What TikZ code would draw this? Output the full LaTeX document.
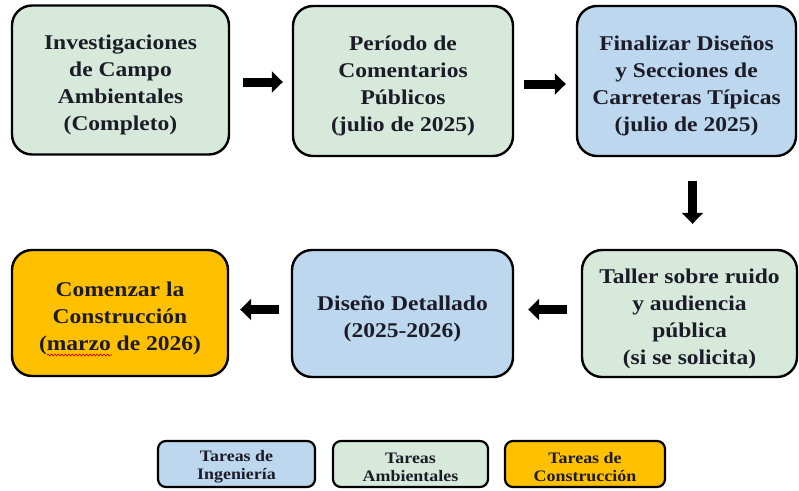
\documentclass[tikz,border=0pt]{standalone}
\usepackage{fontspec}
\setmainfont{Liberation Serif}[FakeStretch=1.12, BoldFont={Liberation Serif Bold}, BoldFeatures={FakeStretch=1.12}]
\usetikzlibrary{arrows.meta,decorations.pathmorphing}
\definecolor{envgreen}{HTML}{D6E9DA}
\definecolor{engblue}{HTML}{BDD7EE}
\definecolor{conorange}{HTML}{FFC000}
\definecolor{txt}{HTML}{1C1C28}
\newcommand\tpstrut{\rule{0pt}{25pt}}
\newcommand\lgstrut{\rule{0pt}{17pt}}
\tikzset{
  taskbox/.style={draw=black, line width=2.4pt, rounded corners=20pt, align=center,
    inner sep=0pt, text=txt, font=\fontsize{21}{27}\selectfont\bfseries},
  legbox/.style={draw=black, line width=2.2pt, rounded corners=8pt, align=center,
    inner sep=0pt, text=txt, font=\fontsize{16}{18}\selectfont\bfseries},
  blockarrow/.style={line width=9pt, -{Triangle[length=11pt,width=21pt]}, draw=black},
  spellline/.style={draw=red!85!black, line width=0.7pt, decorate,
    decoration={snake, amplitude=0.9pt, segment length=3.5pt}}
}
\begin{document}
\begin{tikzpicture}[x=1pt,y=-1pt]
\useasboundingbox (0,0) rectangle (799,490);
% top row
\node[taskbox, fill=envgreen, minimum width=217pt, minimum height=149pt] (b1) at (120.5,80)
  {\tpstrut Investigaciones\\de Campo\\Ambientales\\(Completo)};
\node[taskbox, fill=envgreen, minimum width=220pt, minimum height=150pt] (b2) at (403,81)
  {\tpstrut Período de\\Comentarios\\Públicos\\(julio de 2025)};
\node[taskbox, fill=engblue, minimum width=219pt, minimum height=150pt] (b3) at (686.5,81)
  {\tpstrut Finalizar Diseños\\y Secciones de\\Carreteras Típicas\\(julio de 2025)};
% bottom row
\node[taskbox, fill=conorange, minimum width=216pt, minimum height=126pt] (b4) at (120,313)
  {\tpstrut Comenzar la\\Construcción\\(marzo de 2026)};
\node[taskbox, fill=engblue, minimum width=221pt, minimum height=127pt] (b5) at (402.5,313.5)
  {\tpstrut Diseño Detallado\\(2025-2026)};
\node[taskbox, fill=envgreen, minimum width=215pt, minimum height=127pt] (b6) at (689.5,313.5)
  {\tpstrut Taller sobre ruido\\y audiencia\\pública\\(si se solicita)};
% spell-check squiggle under "marzo"
\draw[spellline] ([shift={(-73,42)}]b4.center) -- ([shift={(-8,42)}]b4.center);
% arrows
\draw[blockarrow, shorten <=13pt, shorten >=9pt] ([yshift=-2pt]b1.east) -- ([yshift=-2pt]b1.east -| b2.west);
\draw[blockarrow, shorten <=10pt, shorten >=10pt] ([yshift=-3pt]b2.east) -- ([yshift=-3pt]b2.east -| b3.west);
\draw[blockarrow, shorten <=24pt, shorten >=25pt] ([xshift=6pt]b3.south) -- ([xshift=6pt]b3.south |- b6.north);
\draw[blockarrow, shorten <=14pt, shorten >=14pt] ([yshift=4pt]b6.west) -- ([yshift=4pt]b6.west -| b5.east);
\draw[blockarrow, shorten <=12pt, shorten >=11pt] ([yshift=4pt]b5.west) -- ([yshift=4pt]b5.west -| b4.east);
% legend
\node[legbox, fill=engblue, minimum width=157pt, minimum height=46pt] (l1) at (236.5,464)
  {\lgstrut Tareas de\\Ingeniería};
\node[legbox, fill=envgreen, minimum width=155pt, minimum height=46pt] (l2) at (410.5,464)
  {\lgstrut Tareas\\Ambientales};
\node[legbox, fill=conorange, minimum width=160pt, minimum height=46pt] (l3) at (585,464)
  {\lgstrut Tareas de\\Construcción};
\end{tikzpicture}
\end{document}
